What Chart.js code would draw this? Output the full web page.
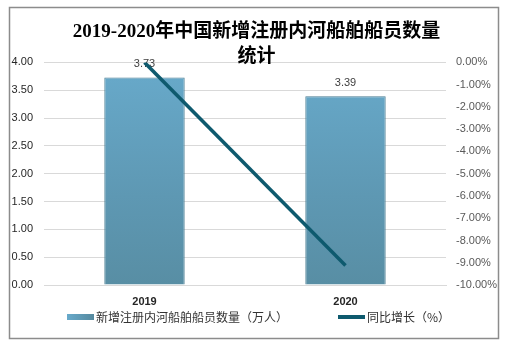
<!DOCTYPE html>
<html>
<head>
<meta charset="utf-8">
<script src="https://cdn.jsdelivr.net/npm/chart.js@4/dist/chart.umd.min.js"></script>
<style>
html,body{margin:0;padding:0;background:#fff;}
#wrap{width:513px;height:355px;position:relative;}
</style>
</head>
<body>
<div id="wrap"><canvas id="c" width="513" height="355"></canvas></div>
<script>
const categories = ['2019', '2020'];
const crewValues = [3.73, 3.39];
const growthValues = [0, -9.12];
const crewLabel = '新增注册内河船舶船员数量（万人）';
const growthLabel = '同比增长（%）';
const titleLines = ['2019-2020年中国新增注册内河船舶船员数量', '统计'];

const frame = {
  id: 'frame',
  beforeDraw(chart) {
    const ctx = chart.ctx;
    ctx.save();
    ctx.fillStyle = '#ffffff';
    ctx.fillRect(0, 0, chart.width, chart.height);
    ctx.strokeStyle = '#8c8c8c';
    ctx.lineWidth = 1.5;
    ctx.strokeRect(9.5, 7.5, 489, 331);
    ctx.restore();
  }
};

const valueLabels = {
  id: 'valueLabels',
  afterDatasetDraw(chart, args) {
    if (args.index !== 0) return;
    const ctx = chart.ctx;
    ctx.save();
    ctx.font = '11px "Liberation Sans", Arial, sans-serif';
    ctx.fillStyle = '#404040';
    ctx.textAlign = 'center';
    ctx.textBaseline = 'middle';
    args.meta.data.forEach((el, i) => {
      ctx.fillText(crewValues[i].toFixed(2), el.x, el.y - 13);
    });
    ctx.restore();
  }
};

// legend drawn below the x axis, laid out like the reference
const bottomLegend = {
  id: 'bottomLegend',
  afterDraw(chart) {
    const ctx = chart.ctx;
    const y = chart.chartArea.bottom + 32;
    const items = [
      { x: 67, h: 6, color: '#5e9ab6', text: chart.data.datasets[0].label },
      { x: 338, h: 4, color: '#0e5a6e', text: chart.data.datasets[1].label }
    ];
    ctx.save();
    ctx.font = '12px "Noto Sans CJK SC", "Liberation Sans", sans-serif';
    ctx.textBaseline = 'middle';
    ctx.textAlign = 'left';
    items.forEach((it) => {
      if (it.h === 6) {
        const g = ctx.createLinearGradient(it.x, 0, it.x + 27, 0);
        g.addColorStop(0, '#68aacb');
        g.addColorStop(1, '#55899e');
        ctx.fillStyle = g;
      } else {
        ctx.fillStyle = it.color;
      }
      ctx.fillRect(it.x, y - it.h / 2, 27, it.h);
      ctx.fillStyle = '#333333';
      ctx.fillText(it.text, it.x + 29, y);
    });
    ctx.restore();
  }
};

function barGradient(context) {
  const chart = context.chart;
  const area = chart.chartArea;
  if (!area) return '#62a2c2';
  const g = chart.ctx.createLinearGradient(0, area.top, 0, area.bottom);
  g.addColorStop(0, '#68aacb');
  g.addColorStop(0.6, '#5e98b3');
  g.addColorStop(1, '#588ea4');
  return g;
}

new Chart(document.getElementById('c'), {
  data: {
    labels: categories,
    datasets: [
      {
        type: 'bar',
        label: crewLabel,
        data: crewValues,
        yAxisID: 'y',
        backgroundColor: barGradient,
        borderColor: '#4a7d93',
        borderWidth: 1,
        barPercentage: 0.8,
        categoryPercentage: 0.5,
        order: 1
      },
      {
        type: 'line',
        label: growthLabel,
        data: growthValues,
        yAxisID: 'y1',
        borderColor: '#0e5a6e',
        backgroundColor: '#0e5a6e',
        borderWidth: 3.5,
        pointRadius: 0,
        tension: 0,
        order: 0
      }
    ]
  },
  options: {
    responsive: false,
    animation: false,
    layout: { padding: { left: 0, right: 0, top: 0, bottom: 0 } },
    plugins: {
      title: {
        display: true,
        text: titleLines,
        color: '#000000',
        font: { family: '"Liberation Serif", "Noto Sans CJK SC", serif', size: 19, weight: 'bold', lineHeight: 1.3 },
        padding: { top: 20, bottom: -7 }
      },
      legend: { display: false },
      tooltip: { enabled: false }
    },
    scales: {
      x: {
        grid: { display: false, drawTicks: false },
        border: { display: true, color: '#d9d9d9' },
        ticks: {
          padding: 10,
          color: '#262626',
          font: { family: '"Liberation Sans", Arial, sans-serif', size: 11, weight: 'bold' }
        },
        afterFit(scale) { scale.height = 70; }
      },
      y: {
        position: 'left',
        min: 0,
        max: 4,
        grid: { color: '#d9d9d9', drawTicks: false },
        border: { display: false },
        ticks: {
          stepSize: 0.5,
          padding: 11,
          color: '#262626',
          font: { family: '"Liberation Sans", Arial, sans-serif', size: 11 },
          callback: (v) => Number(v).toFixed(2)
        },
        afterFit(scale) { scale.width = 44; }
      },
      y1: {
        position: 'right',
        min: -10,
        max: 0,
        grid: { drawOnChartArea: false, drawTicks: false },
        border: { display: false },
        ticks: {
          stepSize: 1,
          padding: 10,
          color: '#595959',
          font: { family: '"Liberation Sans", Arial, sans-serif', size: 11 },
          callback: (v) => Number(v).toFixed(2) + '%'
        },
        afterFit(scale) { scale.width = 67; }
      }
    }
  },
  plugins: [frame, valueLabels, bottomLegend]
});
</script>
</body>
</html>
